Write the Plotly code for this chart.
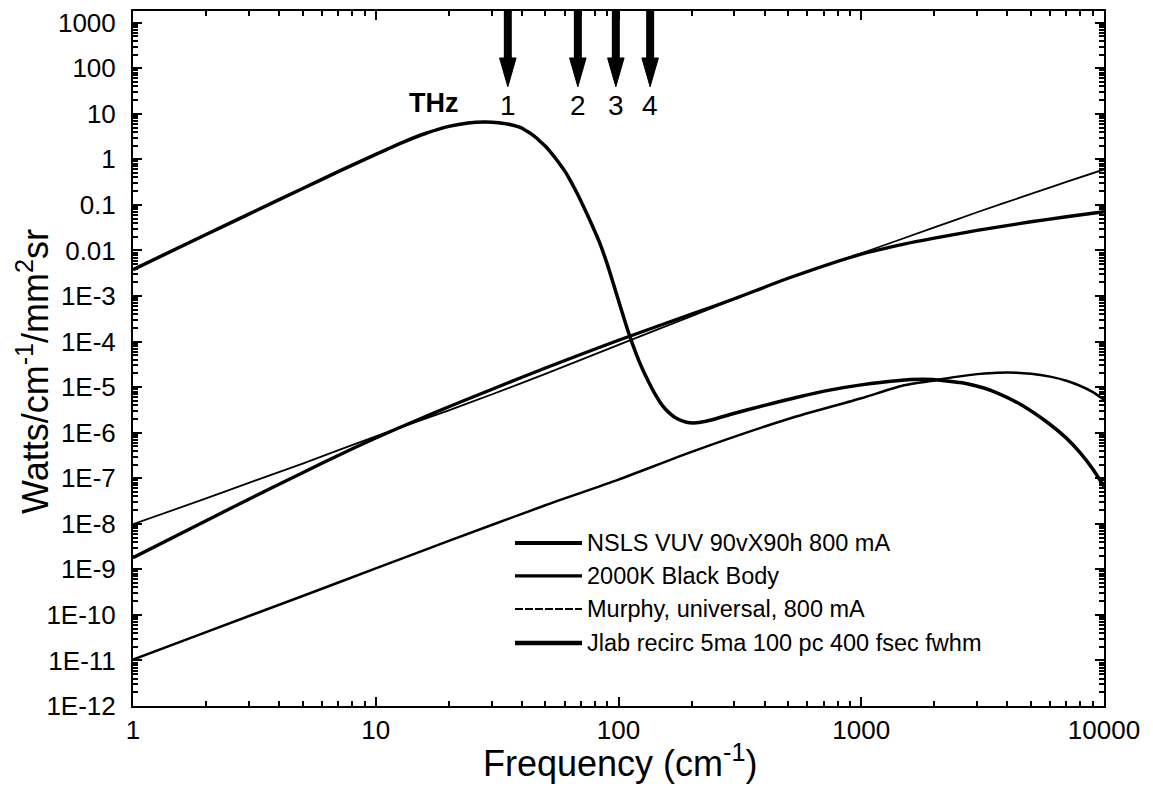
import numpy as np
import plotly.graph_objects as go

# ---------------- data ----------------
freq_jlab = [1, 2, 3, 5, 7, 10, 13, 16, 20, 24, 28, 32, 36, 39.8, 42.2, 44.7, 47, 50.1,
             52.5, 56.2, 60.3, 63.1, 67.6, 72.4, 77.6, 83.2, 89.1, 95.5, 102.3, 109.6,
             117.5, 125.9, 131.8, 141.3, 151.4, 162.2, 173.8, 190.5, 204.2, 229, 288, 400,
             545, 750, 1000, 1400, 1800, 2200, 2700, 3200, 3600, 4500, 5800, 7000, 8000,
             9000, 10000]
val_jlab = [3.8e-3, 0.0224, 0.063, 0.229, 0.537, 1.29, 2.4, 3.7, 5.3, 6.3, 6.6, 6.4, 5.75,
            4.9, 4.07, 3.31, 2.63, 1.91, 1.45, 0.912, 0.537, 0.355, 0.178, 0.0832, 0.0372,
            0.0158, 5.75e-3, 1.78e-3, 5.37e-4, 1.66e-4, 5.89e-5, 2.4e-5, 1.45e-5, 7.08e-6,
            3.98e-6, 2.69e-6, 2.04e-6, 1.7e-6, 1.64e-6, 1.78e-6, 2.51e-6, 3.98e-6, 6.0e-6,
            8.7e-6, 1.12e-5, 1.38e-5, 1.48e-5, 1.38e-5, 1.2e-5, 9.55e-6, 7.59e-6, 4.27e-6,
            1.74e-6, 7.59e-7, 3.55e-7, 1.58e-7, 6.6e-8]

freq_nsls = [1, 2, 3, 5, 7, 10, 15, 20, 30, 50, 100, 200, 300, 500, 1000, 1500, 2000,
             3000, 5000, 7000, 10000]
val_nsls = [1.8e-9, 1.17e-8, 3.47e-8, 1.32e-7, 3.16e-7, 7.6e-7, 1.95e-6, 3.7e-6, 8.9e-6,
            2.63e-5, 1.07e-4, 4.0e-4, 8.7e-4, 2.45e-3, 8.3e-3, 0.0138, 0.0186, 0.0275,
            0.0427, 0.055, 0.0708]

freq_murphy = [1, 2, 3, 5, 10, 20, 30, 50, 100, 200, 300, 500, 1000, 2000, 3000, 5000,
               7000, 10000]
val_murphy = [9.8e-9, 3.6e-8, 7.9e-8, 2.1e-7, 8.3e-7, 3.1e-6, 6.9e-6, 1.95e-5, 8.5e-5,
              3.6e-4, 8.5e-4, 2.45e-3, 8.7e-3, 0.032, 0.069, 0.174, 0.32, 0.60]

freq_bb = [1, 2, 5, 10, 20, 50, 100, 200, 500, 1000, 1500, 2000, 2500, 3000, 3500, 4000,
           5000, 6000, 7000, 8000, 9000, 10000]
val_bb = [1.05e-11, 4.2e-11, 2.6e-10, 1.05e-9, 4.2e-9, 2.55e-8, 9.3e-8, 3.8e-7, 2.0e-6,
          5.7e-6, 1.1e-5, 1.4e-5, 1.7e-5, 1.93e-5, 2.05e-5, 2.1e-5, 1.97e-5, 1.7e-5,
          1.38e-5, 1.06e-5, 7.8e-6, 5.3e-6]

series_names = ["NSLS VUV 90vX90h 800 mA", "2000K Black Body",
                "Murphy, universal, 800 mA", "Jlab recirc 5ma 100 pc 400 fsec fwhm"]

arrow_freqs = [35, 68, 97.5, 135]
arrow_labels = ["1", "2", "3", "4"]

x_tickvals = [1, 10, 100, 1000, 10000]
x_ticktext = ["1", "10", "100", "1000", "10000"]
y_tickvals = [10.0 ** e for e in range(-12, 4)]
y_ticktext = ["1E-12", "1E-11", "1E-10", "1E-9", "1E-8", "1E-7", "1E-6", "1E-5",
              "1E-4", "1E-3", "0.01", "0.1", "1", "10", "100", "1000"]

x_title = "Frequency (cm<sup>-1</sup>)"
y_title = "Watts/cm<sup>-1</sup>/mm<sup>2</sup>sr"

# ---------------- styling ----------------
FONT = "Liberation Sans, Arial, Helvetica, sans-serif"
XR = [0, 4]
YR = [-12, 3.257]

fig = go.Figure()

def add_curve(fx, fy, name, width):
    fig.add_trace(go.Scatter(x=fx, y=fy, mode="lines", name=name,
                             line=dict(color="black", width=width, shape="spline",
                                       smoothing=0.7), showlegend=False))

add_curve(freq_bb, val_bb, series_names[1], 2.5)
add_curve(freq_murphy, val_murphy, series_names[2], 1.8)
add_curve(freq_nsls, val_nsls, series_names[0], 3.3)
add_curve(freq_jlab, val_jlab, series_names[3], 3.5)

# THz arrows (shaft + head), geometry given as fractions of the y axis height
ytop = 10 ** YR[1]
span = YR[1] - YR[0]
head_base = 10 ** (YR[1] - 0.0676 * span)
head_tip = 10 ** (YR[1] - 0.109 * span)
half_w = 10 ** 0.034
for f in arrow_freqs:
    fig.add_trace(go.Scatter(x=[f, f], y=[ytop, head_base], mode="lines",
                             line=dict(color="black", width=8), showlegend=False,
                             hoverinfo="skip"))
    fig.add_trace(go.Scatter(x=[f / half_w, f * half_w, f, f / half_w],
                             y=[head_base, head_base, head_tip, head_base],
                             mode="lines", fill="toself", fillcolor="black",
                             line=dict(color="black", width=1), showlegend=False,
                             hoverinfo="skip"))

annotations = []
for f, lab in zip(arrow_freqs, arrow_labels):
    annotations.append(dict(x=np.log10(f), y=0.8647, xref="x", yref="paper", text=lab,
                            showarrow=False, font=dict(family=FONT, size=28, color="black"),
                            xanchor="center", yanchor="middle"))
annotations.append(dict(x=0.3095, y=0.8683, xref="paper", yref="paper", text="<b>THz</b>",
                        showarrow=False, font=dict(family=FONT, size=27, color="black"),
                        xanchor="center", yanchor="middle"))

# axis titles
annotations.append(dict(x=0.5015, y=-0.0795, xref="paper", yref="paper", text=x_title,
                        showarrow=False, xanchor="center", yanchor="middle",
                        font=dict(family=FONT, size=36, color="black")))
annotations.append(dict(x=-0.103, y=0.482, xref="paper", yref="paper", text=y_title,
                        textangle=-90, showarrow=False, xanchor="center",
                        yanchor="middle", font=dict(family=FONT, size=36, color="black")))

# manual legend (long line samples as in the reference)
leg_rows = [0.2345, 0.1871, 0.1396, 0.0906]
leg_w = [4.2, 3.2, 2.0, 4.6]
leg_dash = ["solid", "solid", "8px,2px", "solid"]
shapes = []
for yy, name, w, d in zip(leg_rows, series_names, leg_w, leg_dash):
    shapes.append(dict(type="line", xref="paper", yref="paper", x0=0.3934, x1=0.4624,
                       y0=yy, y1=yy, line=dict(color="black", width=w, dash=d)))
    annotations.append(dict(x=0.4655, y=yy, xref="paper", yref="paper", text=name,
                            showarrow=False, xanchor="left", yanchor="middle",
                            font=dict(family=FONT, size=23.5, color="black")))

axis_common = dict(type="log", showline=True, linecolor="black", linewidth=2,
                   mirror="allticks", ticks="inside", ticklen=9, tickwidth=2,
                   tickcolor="black", showgrid=False, zeroline=False, automargin=False,
                   ticklabeloverflow="allow",
                   tickfont=dict(family=FONT, size=26, color="black"),
                   minor=dict(ticks="inside", ticklen=5, tickwidth=1.5,
                              tickcolor="black", dtick="D1", showgrid=False))

fig.update_layout(
    width=1153, height=790,
    margin=dict(l=133, r=49, t=11, b=84, autoexpand=False),
    paper_bgcolor="white", plot_bgcolor="white",
    font=dict(family=FONT, color="black"),
    xaxis=dict(axis_common, range=XR, tickvals=x_tickvals, ticktext=x_ticktext),
    yaxis=dict(axis_common, range=YR, tickvals=y_tickvals, ticktext=y_ticktext,
               ticklabelstandoff=10),
    annotations=annotations,
    shapes=shapes,
    showlegend=False,
)

# remove the default page margin so the figure sits at the window's top-left corner
fig.write_html("out.html", config={"displayModeBar": False},
               post_script="document.body.style.margin='0';document.body.style.overflow='hidden';")
